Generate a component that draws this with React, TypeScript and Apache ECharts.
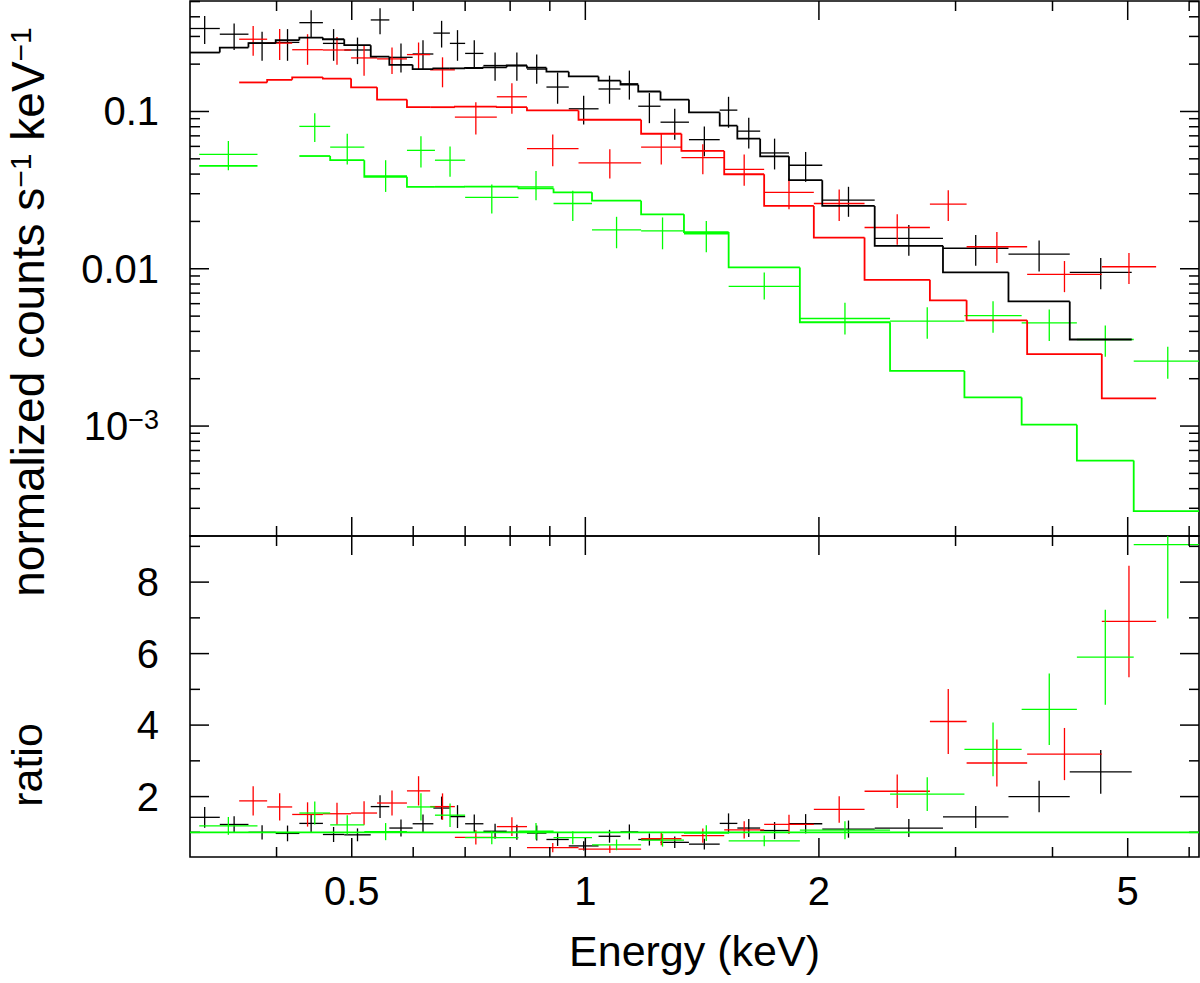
import { useEffect, useRef } from 'react'
import * as echarts from 'echarts'

const FONT = '"Liberation Sans", Arial, Helvetica, sans-serif'

// axis ranges
const energyMin = 0.3094
const energyMax = 6.178
const countsMin = 2.0e-4
const countsMax = 0.504
const ratioMin = 0.31
const ratioMax = 9.29
const unityRatio = 1

// ticks and tick labels
const energyMajorTicks = [0.5, 1, 2, 5]
const energyMinorTicks = [0.4, 0.6, 0.7, 0.8, 0.9, 3, 4, 6]
const energyTickLabels = ['0.5', '1', '2', '5']
const countsMajorTicks = [0.001, 0.01, 0.1]
const countsMinorTicks = [
  0.0002, 0.0003, 0.0004, 0.0005, 0.0006, 0.0007, 0.0008, 0.0009,
  0.002, 0.003, 0.004, 0.005, 0.006, 0.007, 0.008, 0.009,
  0.02, 0.03, 0.04, 0.05, 0.06, 0.07, 0.08, 0.09,
  0.2, 0.3, 0.4, 0.5
]
const countsTickLabels = ['10{sup|−3}', '0.01', '0.1']
const ratioMajorTicks = [2, 4, 6, 8]
const ratioMinorTicks = [1, 3, 5, 7, 9]
const ratioTickLabels = ['2', '4', '6', '8']

// black spectrum (bins in keV, counts s^-1 keV^-1)
const blackLo = [0.309, 0.338, 0.368, 0.399, 0.428, 0.459, 0.489, 0.529, 0.559, 0.599, 0.637, 0.669, 0.700, 0.739, 0.792, 0.841, 0.891, 0.952, 1.04, 1.11, 1.17, 1.25, 1.36, 1.49, 1.57, 1.68, 1.83, 2.02, 2.36, 2.89, 3.51, 4.21]
const blackHi = [0.338, 0.368, 0.399, 0.428, 0.459, 0.489, 0.529, 0.559, 0.599, 0.637, 0.669, 0.700, 0.739, 0.792, 0.841, 0.891, 0.952, 1.04, 1.11, 1.17, 1.25, 1.36, 1.49, 1.57, 1.68, 1.83, 2.02, 2.36, 2.89, 3.51, 4.21, 5.06]
const blackCounts = [0.337, 0.310, 0.272, 0.275, 0.367, 0.271, 0.246, 0.382, 0.221, 0.232, 0.315, 0.271, 0.234, 0.196, 0.196, 0.186, 0.143, 0.104, 0.139, 0.150, 0.108, 0.0855, 0.0662, 0.102, 0.075, 0.0545, 0.0455, 0.0273, 0.0156, 0.0135, 0.0124, 0.0095]
const blackCountsLow = [0.269, 0.246, 0.210, 0.210, 0.295, 0.210, 0.200, 0.310, 0.177, 0.186, 0.255, 0.210, 0.186, 0.157, 0.157, 0.150, 0.112, 0.0827, 0.112, 0.119, 0.0843, 0.0662, 0.0519, 0.0788, 0.0581, 0.0428, 0.0357, 0.0214, 0.0121, 0.01045, 0.0096, 0.0074]
const blackCountsHigh = [0.405, 0.362, 0.321, 0.334, 0.440, 0.334, 0.295, 0.453, 0.271, 0.284, 0.377, 0.329, 0.284, 0.237, 0.237, 0.230, 0.177, 0.126, 0.169, 0.182, 0.131, 0.104, 0.0804, 0.124, 0.0912, 0.0672, 0.0553, 0.0332, 0.019, 0.0164, 0.0151, 0.0117]
const blackModel = [0.237, 0.255, 0.272, 0.284, 0.295, 0.288, 0.264, 0.223, 0.198, 0.186, 0.188, 0.188, 0.189, 0.191, 0.196, 0.190, 0.179, 0.167, 0.157, 0.148, 0.134, 0.119, 0.0986, 0.0812, 0.0672, 0.0519, 0.0366, 0.0251, 0.0140, 0.0095, 0.0062, 0.00355]
const blackRatio = [1.42, 1.22, 1.00, 0.97, 1.25, 0.94, 0.93, 1.72, 1.12, 1.24, 1.68, 1.44, 1.24, 1.03, 1.00, 0.98, 0.80, 0.62, 0.89, 1.01, 0.80, 0.72, 0.67, 1.25, 1.12, 1.05, 1.24, 1.09, 1.12, 1.43, 2.00, 2.69]
const blackRatioErr = [0.29, 0.23, 0.20, 0.22, 0.25, 0.21, 0.18, 0.32, 0.24, 0.26, 0.32, 0.32, 0.26, 0.21, 0.21, 0.21, 0.18, 0.13, 0.18, 0.21, 0.17, 0.16, 0.15, 0.28, 0.25, 0.24, 0.27, 0.24, 0.25, 0.31, 0.44, 0.61]

// red spectrum
const redLo = [0.358, 0.389, 0.419, 0.459, 0.499, 0.539, 0.589, 0.631, 0.679, 0.769, 0.841, 0.980, 1.18, 1.33, 1.51, 1.70, 1.97, 2.29, 2.78, 3.10, 3.71, 4.63]
const redHi = [0.389, 0.419, 0.459, 0.499, 0.539, 0.589, 0.631, 0.679, 0.769, 0.841, 0.980, 1.18, 1.33, 1.51, 1.70, 1.97, 2.29, 2.78, 3.10, 3.71, 4.63, 5.44]
const redCounts = [0.288, 0.272, 0.247, 0.246, 0.219, 0.216, 0.230, 0.184, 0.092, 0.124, 0.0581, 0.0471, 0.0594, 0.0509, 0.0428, 0.0306, 0.026, 0.0183, 0.0258, 0.0138, 0.0092, 0.0103]
const redCountsLow = [0.226, 0.2125, 0.198, 0.198, 0.169, 0.173, 0.186, 0.1425, 0.0715, 0.0967, 0.0449, 0.0375, 0.046, 0.0399, 0.0337, 0.0239, 0.0201, 0.0142, 0.0201, 0.0109, 0.0071, 0.0080]
const redCountsHigh = [0.350, 0.334, 0.310, 0.298, 0.262, 0.255, 0.2745, 0.221, 0.1145, 0.151, 0.0715, 0.0575, 0.0722, 0.0618, 0.0532, 0.0375, 0.0319, 0.0222, 0.0316, 0.0171, 0.0112, 0.0126]
const redModel = [0.153, 0.159, 0.165, 0.162, 0.1425, 0.119, 0.1065, 0.1065, 0.1075, 0.1065, 0.1015, 0.0886, 0.0722, 0.0561, 0.0399, 0.0251, 0.0158, 0.0085, 0.0063, 0.0047, 0.00287, 0.0015]
const redRatio = [1.88, 1.71, 1.50, 1.52, 1.54, 1.82, 2.16, 1.72, 0.86, 1.16, 0.57, 0.53, 0.82, 0.91, 1.07, 1.22, 1.64, 2.15, 4.10, 2.94, 3.19, 6.90]
const redRatioErr = [0.41, 0.38, 0.34, 0.31, 0.33, 0.35, 0.41, 0.37, 0.20, 0.26, 0.13, 0.11, 0.18, 0.20, 0.24, 0.27, 0.37, 0.47, 0.91, 0.66, 0.73, 1.56]

// green spectrum (one bin missing near 0.4 keV)
const greenLo = [0.318, 0.428, 0.469, 0.519, 0.589, 0.640, 0.700, 0.820, 0.910, 1.02, 1.18, 1.34, 1.53, 1.89, 2.47, 3.08, 3.65, 4.30, 5.09]
const greenHi = [0.378, 0.469, 0.519, 0.589, 0.640, 0.700, 0.820, 0.910, 1.02, 1.18, 1.34, 1.53, 1.89, 2.47, 3.08, 3.65, 4.30, 5.09, 6.23]
const greenCounts = [0.0534, 0.0804, 0.0594, 0.039, 0.0566, 0.049, 0.0284, 0.0332, 0.026, 0.01765, 0.0174, 0.0167, 0.00773, 0.00483, 0.00464, 0.00504, 0.00453, 0.00355, 0.00259]
const greenCountsLow = [0.0423, 0.0639, 0.046, 0.0308, 0.044, 0.0384, 0.0225, 0.0273, 0.0201, 0.0135, 0.0133, 0.01275, 0.00637, 0.00382, 0.00359, 0.00392, 0.00347, 0.00276, 0.0020]
const greenCountsHigh = [0.0649, 0.0976, 0.0722, 0.049, 0.0695, 0.060, 0.0344, 0.0419, 0.0313, 0.0214, 0.0212, 0.0201, 0.00948, 0.00607, 0.00569, 0.00621, 0.0055, 0.00436, 0.00319]
const greenModel = [0.0451, 0.0521, 0.049, 0.0384, 0.0332, 0.0332, 0.0333, 0.0324, 0.0306, 0.0271, 0.0222, 0.0171, 0.0102, 0.00457, 0.00224, 0.00152, 0.00102, 0.000603, 0.000288]
const greenRatio = [1.18, 1.54, 1.21, 1.02, 1.71, 1.48, 0.85, 1.03, 0.85, 0.65, 0.78, 0.98, 0.76, 1.06, 2.07, 3.32, 4.44, 5.9, 9.05]
const greenRatioErr = [0.25, 0.32, 0.27, 0.24, 0.38, 0.33, 0.18, 0.23, 0.18, 0.15, 0.18, 0.22, 0.15, 0.25, 0.47, 0.75, 1.0, 1.33, 2.07]

// 数据十字:水平为能量箱宽,竖直为误差
function crossSeries(color: string, grid: number, lo: number[], hi: number[], val: number[], low: number[], high: number[]) {
  return {
    type: 'custom',
    xAxisIndex: grid,
    yAxisIndex: grid,
    clip: true,
    silent: true,
    z: 3,
    data: lo.map((l, i) => [l, hi[i], val[i], low[i], high[i]]),
    renderItem: (params: any, api: any) => {
      const a = api.coord([api.value(0), api.value(2)])
      const b = api.coord([api.value(1), api.value(2)])
      const mid = (a[0] + b[0]) / 2
      const c = api.coord([api.value(0), api.value(3)])
      const d = api.coord([api.value(0), api.value(4)])
      const style = { stroke: color, lineWidth: 1.3 }
      return {
        type: 'group',
        children: [
          { type: 'line', shape: { x1: a[0], y1: a[1], x2: b[0], y2: b[1] }, style },
          { type: 'line', shape: { x1: mid, y1: c[1], x2: mid, y2: d[1] }, style }
        ]
      }
    }
  }
}

// 模型阶梯线
function modelSeries(color: string, lo: number[], hi: number[], model: number[]) {
  return {
    type: 'custom',
    xAxisIndex: 0,
    yAxisIndex: 0,
    clip: true,
    silent: true,
    z: 4,
    data: lo.map((l, i) => [l, hi[i], model[i], i > 0 && lo[i] === hi[i - 1] ? model[i - 1] : model[i]]),
    renderItem: (params: any, api: any) => {
      const a = api.coord([api.value(0), api.value(3)])
      const b = api.coord([api.value(0), api.value(2)])
      const c = api.coord([api.value(1), api.value(2)])
      return {
        type: 'polyline',
        shape: { points: [a, b, c] },
        style: { stroke: color, lineWidth: 1.8, fill: 'none' }
      }
    }
  }
}

// 刻度线(上下或左右两边)
function tickSeries(grid: number, axis: 'x' | 'y', values: number[], len: number, ref: number) {
  return {
    type: 'custom',
    xAxisIndex: grid,
    yAxisIndex: grid,
    silent: true,
    z: 5,
    data: values.map(v => (axis === 'x' ? [v, ref] : [ref, v])),
    renderItem: (params: any, api: any) => {
      const cs = params.coordSys
      const p = api.coord([api.value(0), api.value(1)])
      const style = { stroke: '#000', lineWidth: 1.5 }
      if (axis === 'x') {
        return {
          type: 'group',
          children: [
            { type: 'line', shape: { x1: p[0], y1: cs.y + cs.height, x2: p[0], y2: cs.y + cs.height - len }, style },
            { type: 'line', shape: { x1: p[0], y1: cs.y, x2: p[0], y2: cs.y + len }, style }
          ]
        }
      }
      return {
        type: 'group',
        children: [
          { type: 'line', shape: { x1: cs.x, y1: p[1], x2: cs.x + len, y2: p[1] }, style },
          { type: 'line', shape: { x1: cs.x + cs.width, y1: p[1], x2: cs.x + cs.width - len, y2: p[1] }, style }
        ]
      }
    }
  }
}

const supStyle = { fontSize: 27, fontFamily: FONT, fill: '#000', verticalAlign: 'top', lineHeight: 27 }
const titleSupStyle = { fontSize: 30, fontFamily: FONT, fill: '#000', verticalAlign: 'top', lineHeight: 30 }

// 刻度标签
function labelSeries(grid: number, axis: 'x' | 'y', values: number[], labels: string[], ref: number) {
  return {
    type: 'custom',
    xAxisIndex: grid,
    yAxisIndex: grid,
    silent: true,
    z: 5,
    data: values.map(v => (axis === 'x' ? [v, ref] : [ref, v])),
    renderItem: (params: any, api: any) => {
      const cs = params.coordSys
      const p = api.coord([api.value(0), api.value(1)])
      const text = labels[params.dataIndex]
      const base = { text, fontSize: 40, fontFamily: FONT, fill: '#000', rich: { sup: supStyle } }
      if (axis === 'x') {
        return {
          type: 'text',
          x: p[0],
          y: cs.y + cs.height + 34,
          style: { ...base, align: 'center', verticalAlign: 'middle', textAlign: 'center', textVerticalAlign: 'middle' }
        }
      }
      return {
        type: 'text',
        x: cs.x - 31,
        y: p[1],
        style: { ...base, align: 'right', verticalAlign: 'middle', textAlign: 'right', textVerticalAlign: 'middle' }
      }
    }
  }
}

function titleText(text: string, x: number, y: number, rotation: number, size: number) {
  return {
    type: 'text',
    x,
    y,
    rotation,
    silent: true,
    style: {
      text,
      fontSize: size,
      fontFamily: FONT,
      fill: '#000',
      align: 'center',
      verticalAlign: 'middle',
      textAlign: 'center',
      textVerticalAlign: 'middle',
      rich: { sup: titleSupStyle }
    }
  }
}

export default function App() {
  const chartRef = useRef<HTMLDivElement>(null)

  useEffect(() => {
    if (!chartRef.current) return
    const chart = echarts.init(chartRef.current, null, { renderer: 'svg' })

    const option: any = {
      animation: false,
      backgroundColor: '#fff',
      grid: [
        { left: 190, top: 1, width: 1009, height: 535, show: true, borderColor: '#000', borderWidth: 1.6, backgroundColor: 'transparent' },
        { left: 190, top: 536, width: 1009, height: 321, show: true, borderColor: '#000', borderWidth: 1.6, backgroundColor: 'transparent' }
      ],
      xAxis: [
        { type: 'log', gridIndex: 0, min: energyMin, max: energyMax, show: false },
        { type: 'log', gridIndex: 1, min: energyMin, max: energyMax, show: false }
      ],
      yAxis: [
        { type: 'log', gridIndex: 0, min: countsMin, max: countsMax, show: false },
        { type: 'value', gridIndex: 1, min: ratioMin, max: ratioMax, show: false }
      ],
      graphic: [
        titleText('Energy (keV)', 694.5, 951, 0, 43),
        titleText('normalized counts s{sup|−1} keV{sup|−1}', 28, 312, Math.PI / 2, 46),
        titleText('ratio', 27, 765, Math.PI / 2, 43)
      ],
      series: [
        // 上图:数据与模型
        crossSeries('#000000', 0, blackLo, blackHi, blackCounts, blackCountsLow, blackCountsHigh),
        crossSeries('#ff0000', 0, redLo, redHi, redCounts, redCountsLow, redCountsHigh),
        crossSeries('#00ff00', 0, greenLo, greenHi, greenCounts, greenCountsLow, greenCountsHigh),
        modelSeries('#000000', blackLo, blackHi, blackModel),
        modelSeries('#ff0000', redLo, redHi, redModel),
        modelSeries('#00ff00', greenLo, greenHi, greenModel),
        // 下图:比值
        crossSeries('#000000', 1, blackLo, blackHi, blackRatio, blackRatio.map((r, i) => r - blackRatioErr[i]), blackRatio.map((r, i) => r + blackRatioErr[i])),
        crossSeries('#ff0000', 1, redLo, redHi, redRatio, redRatio.map((r, i) => r - redRatioErr[i]), redRatio.map((r, i) => r + redRatioErr[i])),
        crossSeries('#00ff00', 1, greenLo, greenHi, greenRatio, greenRatio.map((r, i) => r - greenRatioErr[i]), greenRatio.map((r, i) => r + greenRatioErr[i])),
        {
          type: 'line',
          xAxisIndex: 1,
          yAxisIndex: 1,
          data: [[energyMin, unityRatio], [energyMax, unityRatio]],
          showSymbol: false,
          silent: true,
          z: 6,
          lineStyle: { color: '#00ff00', width: 1.6 }
        },
        // 刻度与标签
        tickSeries(0, 'x', energyMajorTicks, 19, 0.01),
        tickSeries(0, 'x', energyMinorTicks, 10, 0.01),
        tickSeries(1, 'x', energyMajorTicks, 19, 1),
        tickSeries(1, 'x', energyMinorTicks, 10, 1),
        tickSeries(0, 'y', countsMajorTicks, 19, 1),
        tickSeries(0, 'y', countsMinorTicks, 10, 1),
        tickSeries(1, 'y', ratioMajorTicks, 19, 1),
        tickSeries(1, 'y', ratioMinorTicks, 10, 1),
        labelSeries(1, 'x', energyMajorTicks, energyTickLabels, 1),
        labelSeries(0, 'y', countsMajorTicks, countsTickLabels, 1),
        labelSeries(1, 'y', ratioMajorTicks, ratioTickLabels, 1)
      ]
    }

    chart.setOption(option)

    return () => {
      chart.dispose()
    }
  }, [])

  return (
    <div
      ref={chartRef}
      style={{ position: 'fixed', left: 0, top: 0, width: 1200, height: 983, background: '#fff' }}
    />
  )
}
